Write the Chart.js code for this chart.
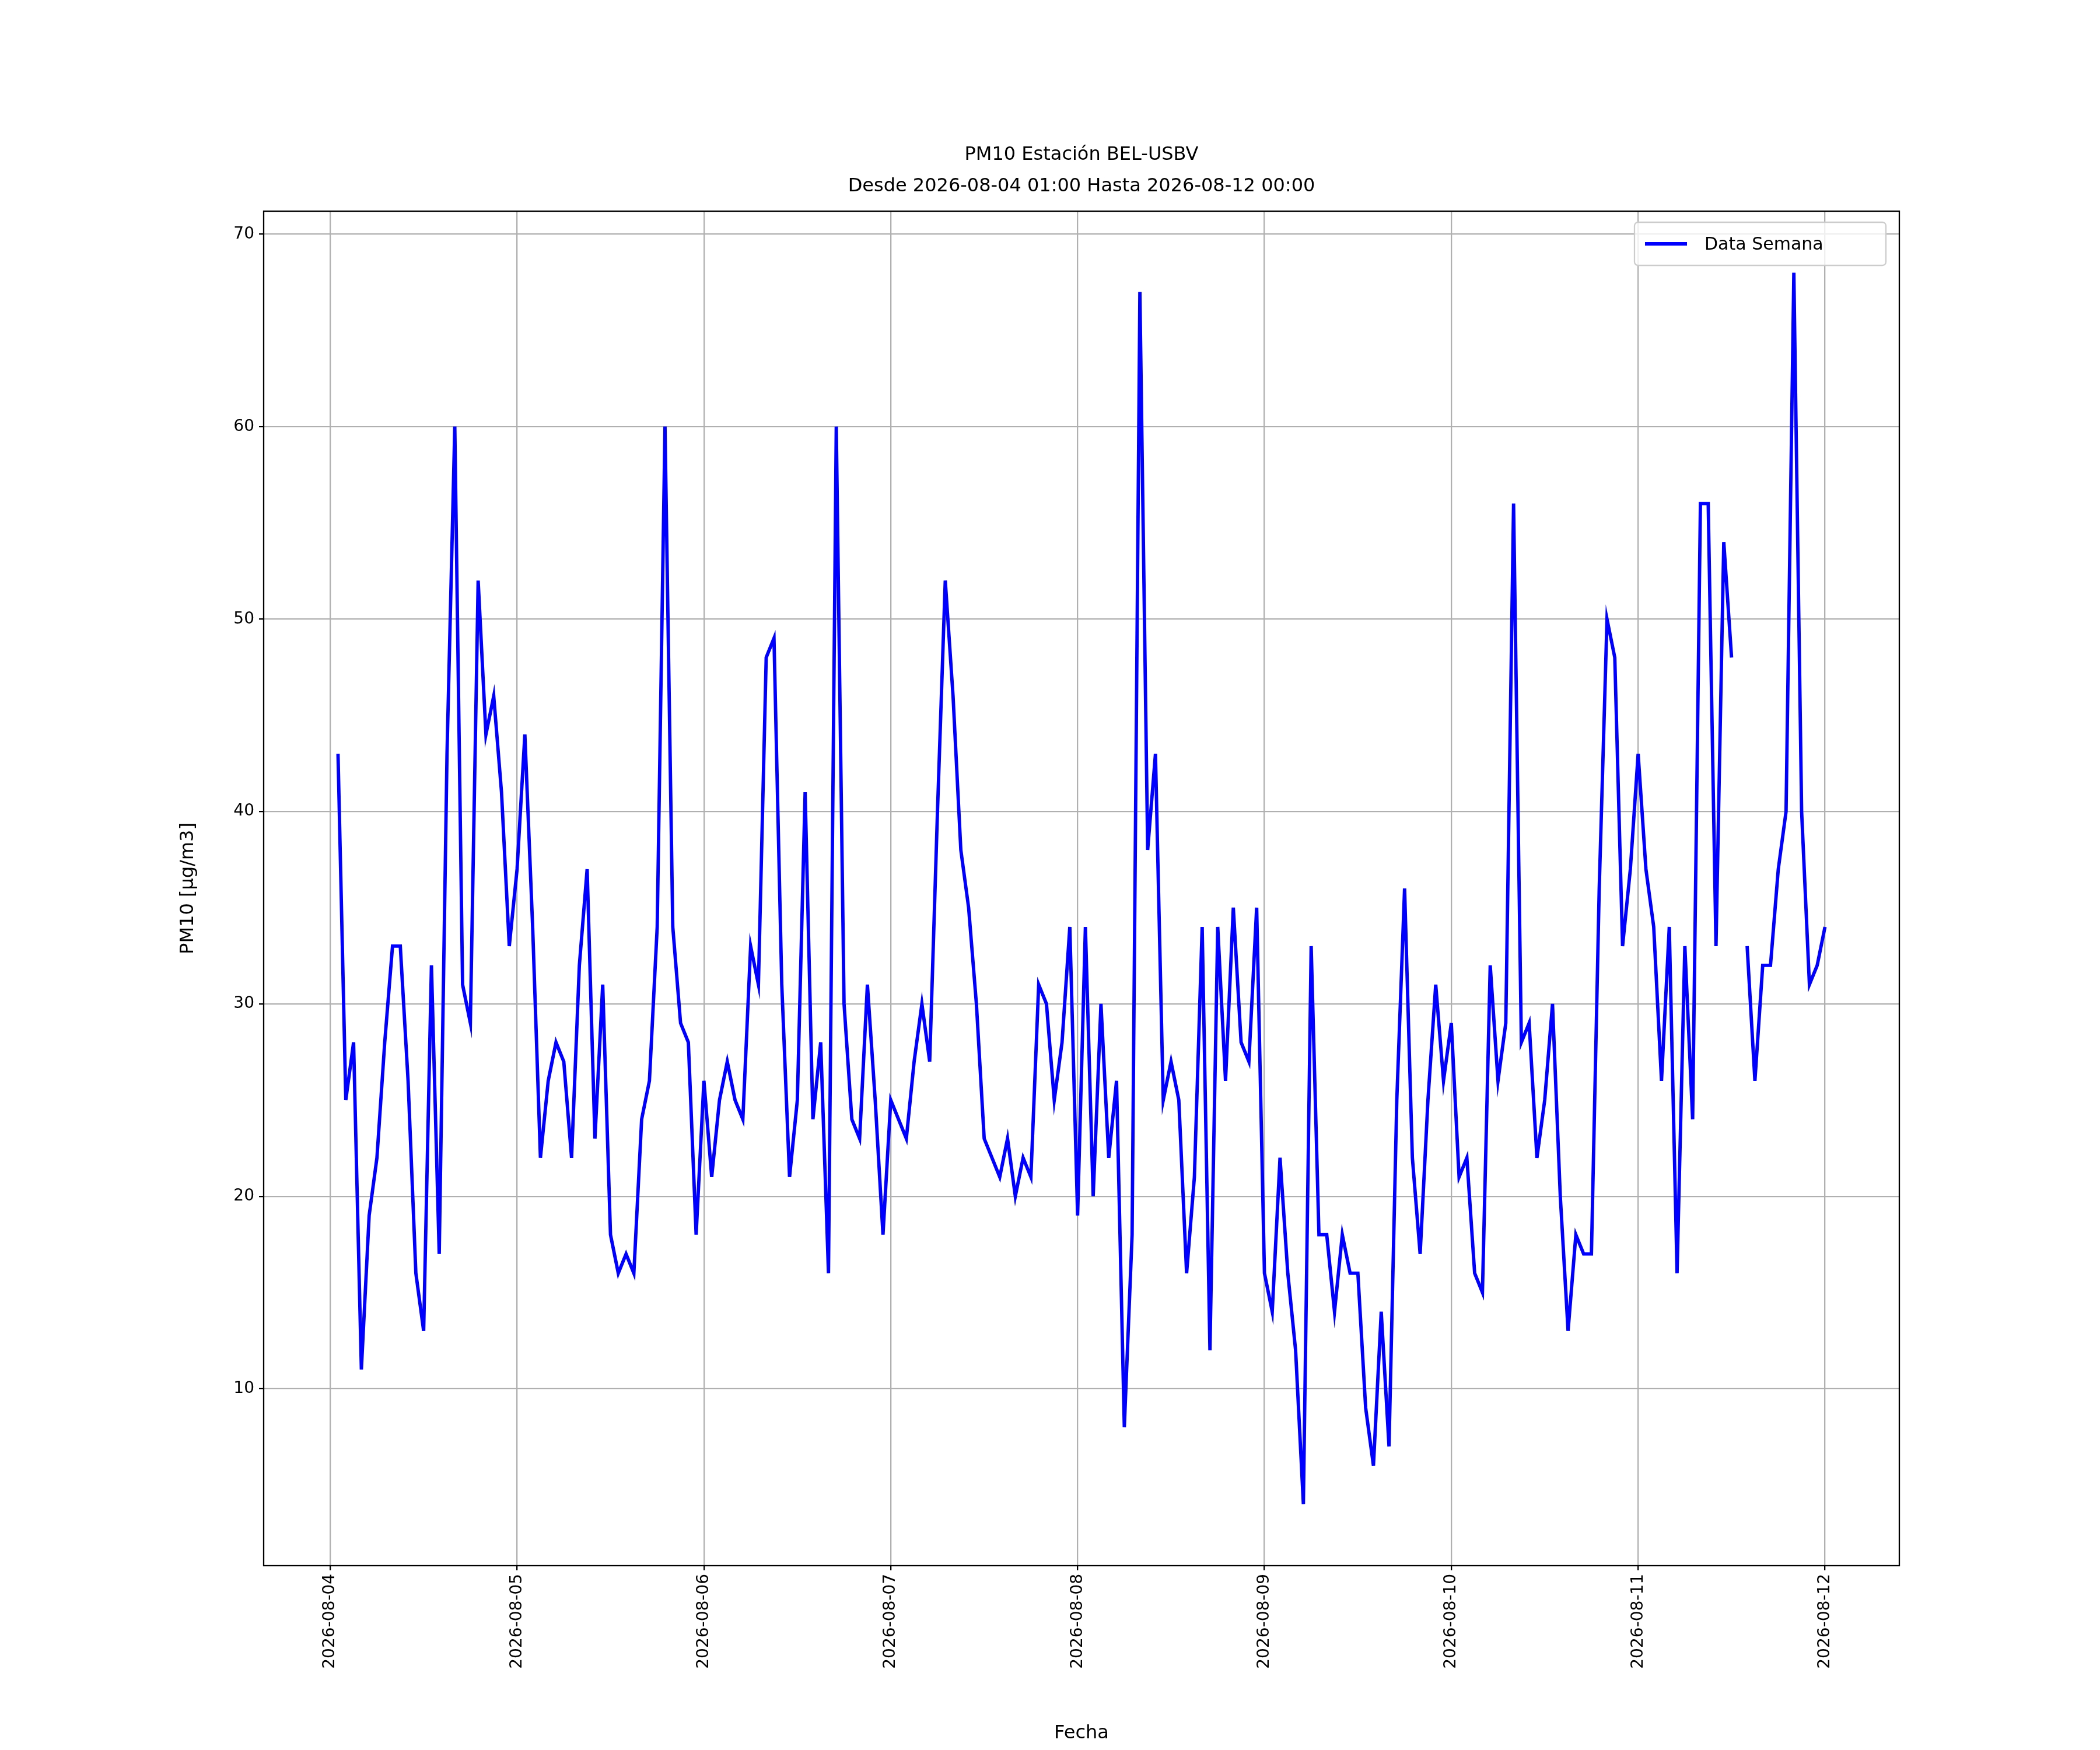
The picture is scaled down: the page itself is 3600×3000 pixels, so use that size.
<!DOCTYPE html>
<html><head><meta charset="utf-8">
<script src="https://cdn.jsdelivr.net/npm/chart.js@4"></script>
<style>html,body{margin:0;padding:0;background:#fff}#c{display:block}</style>
</head><body>
<canvas id="c" width="3600" height="3000"></canvas>
<script>
const tickLabels = ['2026-08-04','2026-08-05','2026-08-06','2026-08-07','2026-08-08','2026-08-09','2026-08-10','2026-08-11','2026-08-12'];
// hourly values, 01:00 .. 24:00 of each day
const day1 = [43,25,28,11,19,22,28,33,33,26,16,13,32,17,43,60,31,29,52,44,46,41,33,37];
const day2 = [44,34,22,26,28,27,22,32,37,23,31,18,16,17,16,24,26,34,60,34,29,28,18,26];
const day3 = [21,25,27,25,24,33,31,48,49,31,21,25,41,24,28,16,60,30,24,23,31,25,18,25];
const day4 = [24,23,27,30,27,40,52,46,38,35,30,23,22,21,23,20,22,21,31,30,25,28,34,19];
const day5 = [34,20,30,22,26,8,18,67,38,43,25,27,25,16,21,34,12,34,26,35,28,27,35,16];
const day6 = [14,22,16,12,4,33,18,18,14,18,16,16,9,6,14,7,25,36,22,17,25,31,26,29];
const day7 = [21,22,16,15,32,26,29,56,28,29,22,25,30,20,13,18,17,17,36,50,48,33,37,43];
const day8 = [37,34,26,34,16,33,24,56,56,33,54,48,null,33,26,32,32,37,40,68,40,31,32,34];
const days = [day1,day2,day3,day4,day5,day6,day7,day8];
const points = [];
days.forEach((d,i)=>d.forEach((v,j)=>points.push({x:i*24+j+1,y:v})));

const L=452,R=3256,T=362,B=2684;
const font='"DejaVu Sans", sans-serif';
const deco = {
  id:'deco',
  afterDraw(ch){
    const c=ch.ctx; const a=ch.chartArea;
    c.save();
    c.strokeStyle='#000'; c.lineWidth=2.3;
    c.strokeRect(a.left,a.top,a.right-a.left,a.bottom-a.top);
    c.fillStyle='#000'; c.textAlign='center'; c.textBaseline='middle';
    c.font='32px '+font;
    const cx=(a.left+a.right)/2;
    c.fillText('PM10 Estación BEL-USBV',cx,266);
    c.fillText('Desde 2026-08-04 01:00 Hasta 2026-08-12 00:00',cx,320);
    c.fillText('Fecha',cx,2972);
    c.save(); c.translate(323,(a.top+a.bottom)/2); c.rotate(-Math.PI/2);
    c.fillText('PM10 [μg/m3]',0,0); c.restore();
    // legend
    const lx=2802,ly=381,lw=431,lh=74;
    c.fillStyle='rgba(255,255,255,0.8)'; c.strokeStyle='#cccccc'; c.lineWidth=2.3;
    c.beginPath(); c.roundRect(lx,ly,lw,lh,6); c.fill(); c.stroke();
    c.strokeStyle='#0000ff'; c.lineWidth=5.8;
    c.beginPath(); c.moveTo(lx+18,ly+37); c.lineTo(lx+90,ly+37); c.stroke();
    c.fillStyle='#000'; c.textAlign='left'; c.font='30px '+font;
    c.fillText('Data Semana',lx+120,ly+39);
    c.restore();
  }
};
new Chart(document.getElementById('c'),{
  type:'line',
  data:{datasets:[{data:points,borderColor:'#0000ff',borderWidth:5.8,pointRadius:0,tension:0,spanGaps:false,fill:false}]},
  options:{
    responsive:false,animation:false,devicePixelRatio:1,
    layout:{padding:{top:T,right:3600-R,left:0,bottom:0}},
    plugins:{legend:{display:false},title:{display:false},tooltip:{enabled:false}},
    scales:{
      x:{type:'linear',min:1-9.55,max:192+9.55,
        afterFit(s){s.height=3000-B;},
        afterBuildTicks(s){s.ticks=tickLabels.map((t,i)=>({value:i*24}));},
        ticks:{autoSkip:false,minRotation:90,maxRotation:90,color:'#000',font:{size:28,family:font},padding:6,
          callback:(v)=>tickLabels[Math.round(v/24)]},
        grid:{color:'#b0b0b0',lineWidth:2.3,tickLength:8,tickColor:'#000',drawOnChartArea:true},
        border:{display:false}},
      y:{type:'linear',min:0.8,max:71.2,
        afterFit(s){s.width=L;},
        afterBuildTicks(s){s.ticks=[10,20,30,40,50,60,70].map(v=>({value:v}));},
        ticks:{color:'#000',font:{size:28,family:font},padding:8},
        grid:{color:'#b0b0b0',lineWidth:2.3,tickLength:8,tickColor:'#000'},
        border:{display:false}}
    }
  },
  plugins:[deco]
});
</script>
</body></html>
